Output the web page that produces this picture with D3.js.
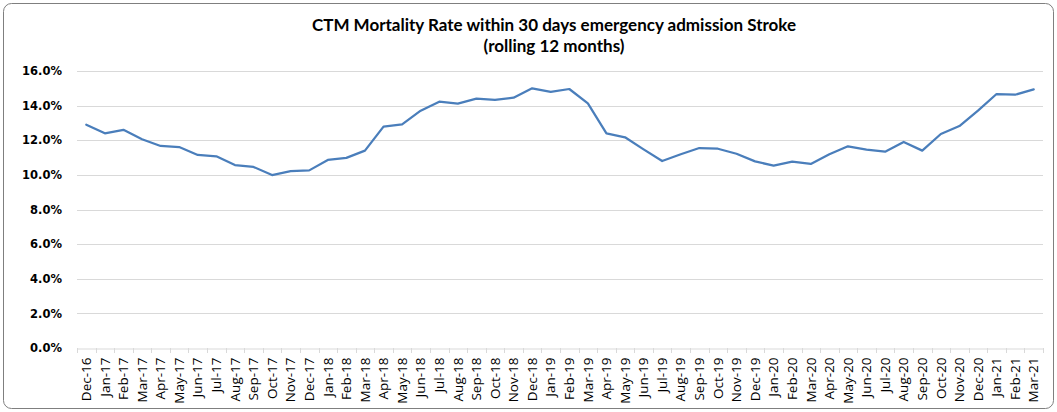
<!DOCTYPE html>
<html>
<head>
<meta charset="utf-8">
<script src="https://cdn.jsdelivr.net/npm/d3@7"></script>
<style>
  body { margin: 0; background: #fff; }
  svg { display: block; }
  text { font-family: "DejaVu Sans", Verdana, sans-serif; }
</style>
</head>
<body>
<svg id="chart" width="1057" height="412"></svg>
<script>
// month labels, Dec-16 .. Mar-21
const months = ["Dec-16",
  "Jan-17", "Feb-17", "Mar-17", "Apr-17", "May-17", "Jun-17", "Jul-17", "Aug-17", "Sep-17", "Oct-17", "Nov-17", "Dec-17",
  "Jan-18", "Feb-18", "Mar-18", "Apr-18", "May-18", "Jun-18", "Jul-18", "Aug-18", "Sep-18", "Oct-18", "Nov-18", "Dec-18",
  "Jan-19", "Feb-19", "Mar-19", "Apr-19", "May-19", "Jun-19", "Jul-19", "Aug-19", "Sep-19", "Oct-19", "Nov-19", "Dec-19",
  "Jan-20", "Feb-20", "Mar-20", "Apr-20", "May-20", "Jun-20", "Jul-20", "Aug-20", "Sep-20", "Oct-20", "Nov-20", "Dec-20",
  "Jan-21", "Feb-21", "Mar-21"];

// mortality rate, %
const rates = [12.9,
  12.4, 12.6, 12.06, 11.67, 11.61, 11.15, 11.07, 10.57, 10.46, 9.99, 10.22, 10.26,
  10.86, 10.98, 11.4, 12.79, 12.92, 13.71, 14.23, 14.12, 14.4, 14.33, 14.46, 15.0,
  14.79, 14.96, 14.13, 12.4, 12.17, 11.47, 10.8, 11.19, 11.55, 11.51, 11.22, 10.78,
  10.53, 10.76, 10.63, 11.19, 11.65, 11.46, 11.34, 11.9, 11.4, 12.36, 12.82, 13.71,
  14.67, 14.63, 14.94];

const yTicks = [0, 2, 4, 6, 8, 10, 12, 14, 16];
const titleLines = ["CTM Mortality Rate within 30 days emergency admission Stroke", "(rolling 12 months)"];

const svg = d3.select("#chart");
const margin = {left: 77, right: 1043, top: 71, bottom: 348};

// outer frame
svg.append("rect")
  .attr("x", 3.5).attr("y", 3.5)
  .attr("width", 1050).attr("height", 405)
  .attr("rx", 8).attr("ry", 8)
  .style("fill", "#fff")
  .style("stroke", "#7f7f7f")
  .style("stroke-width", 1);

let x = d3.scaleBand()
  .domain(months)
  .range([margin.left, margin.right]);

let y = d3.scaleLinear()
  .domain([0, 16])
  .range([margin.bottom, margin.top]);

// gridlines
svg.append("g")
  .selectAll("line")
  .data(yTicks.filter(d => d > 0))
  .enter()
  .append("line")
  .attr("x1", margin.left)
  .attr("x2", margin.right)
  .attr("y1", d => Math.round(y(d)) + 0.5)
  .attr("y2", d => Math.round(y(d)) + 0.5)
  .style("stroke", "#d9d9d9")
  .style("stroke-width", 1);

// y axis labels
let yAxis = d3.axisLeft(y)
  .tickValues(yTicks)
  .tickSize(0)
  .tickPadding(15)
  .tickFormat(d => d.toFixed(1) + "%");

let yg = svg.append("g")
  .attr("transform", "translate(" + margin.left + ",0)")
  .call(yAxis);
yg.select(".domain").remove();
yg.selectAll("text")
  .style("font-family", "'DejaVu Sans', Verdana, sans-serif")
  .style("font-size", "11.5px")
  .style("font-weight", "bold")
  .style("fill", "#000");

// x axis
let xAxis = d3.axisBottom(x).tickSize(0).tickPadding(4);
let xg = svg.append("g")
  .attr("transform", "translate(0," + (Math.round(margin.bottom) + 0.5) + ")")
  .call(xAxis);
xg.select(".domain").style("stroke", "#d9d9d9");
xg.selectAll("text")
  .attr("transform", "rotate(-90)")
  .attr("x", -9)
  .attr("y", 0)
  .attr("dy", "0.35em")
  .style("text-anchor", "end")
  .style("font-family", "'Open Sans', sans-serif")
  .style("font-size", "13.5px")
  .style("font-weight", "normal")
  .style("fill", "#000");

// tick marks on band boundaries
svg.append("g")
  .selectAll("line")
  .data(months.concat(["end"]))
  .enter()
  .append("line")
  .attr("x1", (d, i) => Math.round(margin.left + i * x.step()) + 0.5)
  .attr("x2", (d, i) => Math.round(margin.left + i * x.step()) + 0.5)
  .attr("y1", margin.bottom)
  .attr("y2", margin.bottom + 5)
  .style("stroke", "#d9d9d9");

// the line
let line = d3.line()
  .x((d, i) => x(months[i]) + x.bandwidth() / 2)
  .y(d => y(d))
  .curve(d3.curveLinear);

svg.append("path")
  .datum(rates)
  .attr("d", line)
  .style("fill", "none")
  .style("stroke", "#4a7ebb")
  .style("stroke-width", 2.25)
  .style("stroke-linejoin", "round")
  .style("stroke-linecap", "round");

// title
svg.append("g")
  .selectAll("text")
  .data(titleLines)
  .enter()
  .append("text")
  .attr("x", 554)
  .attr("y", (d, i) => 31 + i * 21)
  .style("text-anchor", "middle")
  .style("font-family", "Lato, Carlito, sans-serif")
  .style("font-size", "17px")
  .style("font-weight", "bold")
  .style("fill", "#000")
  .text(d => d);
</script>
</body>
</html>
